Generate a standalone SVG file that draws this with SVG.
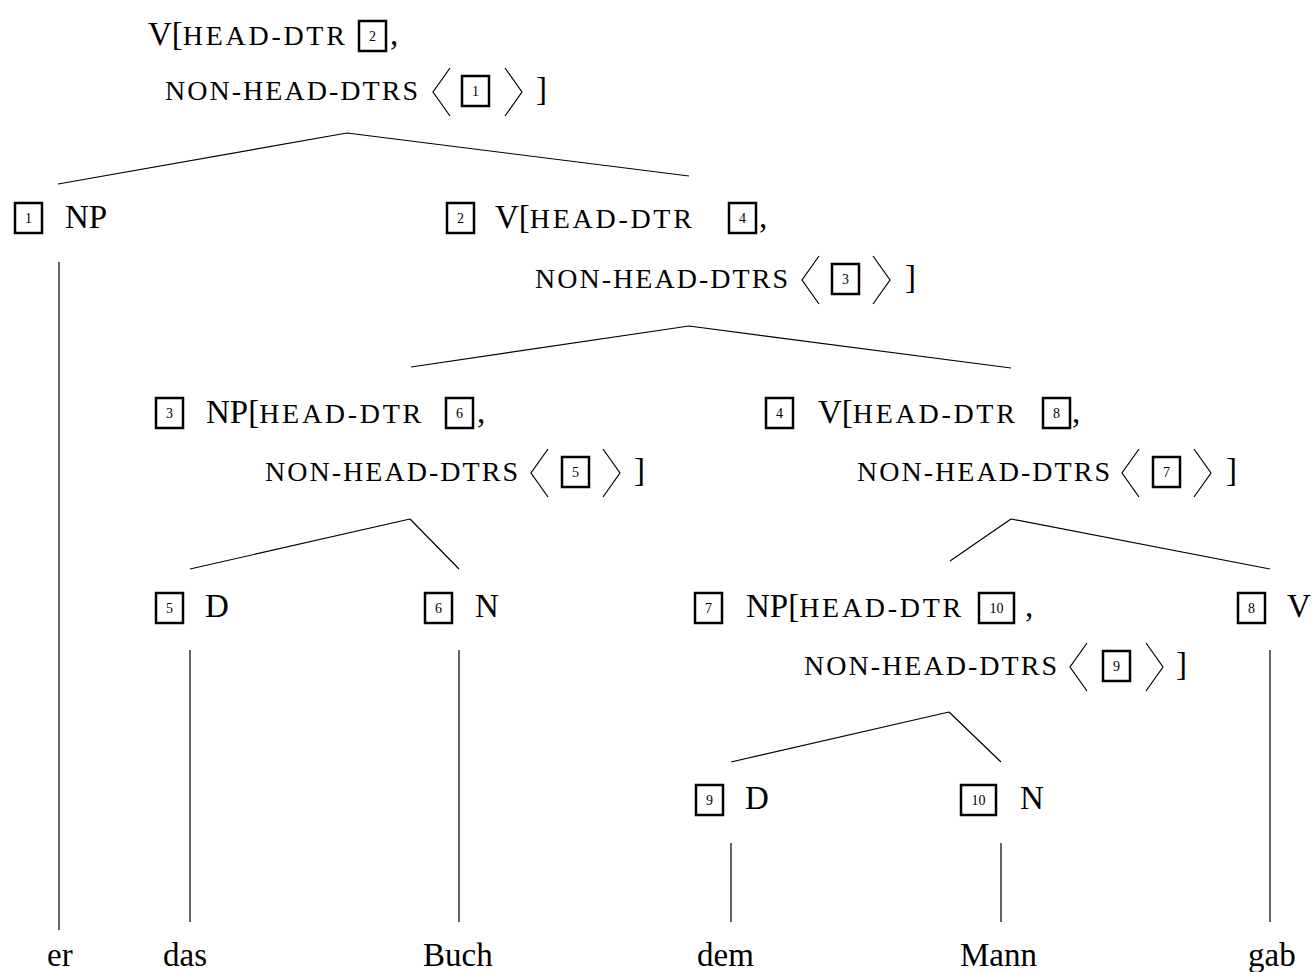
<svg xmlns="http://www.w3.org/2000/svg" width="1314" height="972" viewBox="0 0 1314 972">
  <style>
    text { font-family: "Liberation Serif", "Times New Roman", serif; fill: #000; }
    .cat { font-size: 33px; }
    .sc { font-size: 28px; }
    .num { font-size: 14px; text-anchor: middle; }
    .box { fill: none; stroke: #000; stroke-width: 2.5; }
    .edge { stroke: #000; stroke-width: 1.2; fill: none; }
  </style>
  <defs>
    <!-- tag boxes -->
    <rect id="tag" class="box" x="0" y="0" width="27" height="30"/>
    <rect id="tag2" class="box" x="0" y="0" width="35" height="30"/>
  </defs>

  <!-- connectors -->
  <g id="edges">
    <path class="edge" d="M347 133 L58 184 M347 133 L689 176"/>
    <path class="edge" d="M59 262 L59 930"/>
    <path class="edge" d="M689 326 L411 367 M689 326 L1011 368"/>
    <path class="edge" d="M410 519 L190 569 M410 519 L459 569"/>
    <path class="edge" d="M1011 519 L950 561 M1011 519 L1270 569"/>
    <path class="edge" d="M190 650 L190 922 M459 650 L459 922"/>
    <path class="edge" d="M949 712 L731 762 M949 712 L1001 762"/>
    <path class="edge" d="M731 843 L731 922 M1001 843 L1001 922"/>
    <path class="edge" d="M1270 650 L1270 922"/>
  </g>

  <!-- root -->
  <g id="root">
    <text class="cat" x="148" y="45">V[<tspan class="sc" textLength="162" lengthAdjust="spacing">HEAD-DTR</tspan></text>
    <use href="#tag" x="359" y="21"/>
    <text class="num" x="372.5" y="41">2</text>
    <text class="cat" x="390" y="45">,</text>
    <text class="sc" x="165" y="100" textLength="253" lengthAdjust="spacing">NON-HEAD-DTRS</text>
    <path class="edge" d="M450 68 L433 92 L450 116 M505 68 L522 92 L505 116"/>
    <use href="#tag" x="462" y="76"/>
    <text class="num" x="475.5" y="96">1</text>
    <text class="cat" x="536" y="100">]</text>
  </g>

  <!-- node 1 -->
  <g id="n1">
    <use href="#tag" x="15" y="203"/>
    <text class="num" x="28.5" y="223">1</text>
    <text class="cat" x="65" y="228">NP</text>
  </g>

  <!-- node 2 -->
  <g id="n2">
    <use href="#tag" x="447" y="203"/>
    <text class="num" x="460.5" y="223">2</text>
    <text class="cat" x="495" y="228">V[<tspan class="sc" textLength="162" lengthAdjust="spacing">HEAD-DTR</tspan></text>
    <use href="#tag" x="729" y="203"/>
    <text class="num" x="742.5" y="223">4</text>
    <text class="cat" x="759" y="228">,</text>
    <text class="sc" x="535" y="288" textLength="253" lengthAdjust="spacing">NON-HEAD-DTRS</text>
    <path class="edge" d="M819 256 L802 280 L819 304 M873 256 L890 280 L873 304"/>
    <use href="#tag" x="832" y="264"/>
    <text class="num" x="845.5" y="284">3</text>
    <text class="cat" x="905" y="288">]</text>
  </g>

  <!-- node 3 -->
  <g id="n3">
    <use href="#tag" x="156" y="398"/>
    <text class="num" x="169.5" y="418">3</text>
    <text class="cat" x="206" y="423">NP[<tspan class="sc" textLength="162" lengthAdjust="spacing">HEAD-DTR</tspan></text>
    <use href="#tag" x="446" y="398"/>
    <text class="num" x="459.5" y="418">6</text>
    <text class="cat" x="477" y="423">,</text>
    <text class="sc" x="265" y="481" textLength="253" lengthAdjust="spacing">NON-HEAD-DTRS</text>
    <path class="edge" d="M548 449 L531 473 L548 497 M603 449 L620 473 L603 497"/>
    <use href="#tag" x="562" y="457"/>
    <text class="num" x="575.5" y="477">5</text>
    <text class="cat" x="634" y="481">]</text>
  </g>

  <!-- node 4 -->
  <g id="n4">
    <use href="#tag" x="766" y="398"/>
    <text class="num" x="779.5" y="418">4</text>
    <text class="cat" x="818" y="423">V[<tspan class="sc" textLength="162" lengthAdjust="spacing">HEAD-DTR</tspan></text>
    <use href="#tag" x="1043" y="398"/>
    <text class="num" x="1056.5" y="418">8</text>
    <text class="cat" x="1072" y="423">,</text>
    <text class="sc" x="857" y="481" textLength="253" lengthAdjust="spacing">NON-HEAD-DTRS</text>
    <path class="edge" d="M1139 449 L1122 473 L1139 497 M1194 449 L1211 473 L1194 497"/>
    <use href="#tag" x="1153" y="457"/>
    <text class="num" x="1166.5" y="477">7</text>
    <text class="cat" x="1226" y="481">]</text>
  </g>

  <!-- node 5 -->
  <g id="n5">
    <use href="#tag" x="156" y="593"/>
    <text class="num" x="169.5" y="613">5</text>
    <text class="cat" x="205" y="617">D</text>
  </g>

  <!-- node 6 -->
  <g id="n6">
    <use href="#tag" x="425" y="593"/>
    <text class="num" x="438.5" y="613">6</text>
    <text class="cat" x="475" y="617">N</text>
  </g>

  <!-- node 7 -->
  <g id="n7">
    <use href="#tag" x="695" y="593"/>
    <text class="num" x="708.5" y="613">7</text>
    <text class="cat" x="746" y="617">NP[<tspan class="sc" textLength="162" lengthAdjust="spacing">HEAD-DTR</tspan></text>
    <use href="#tag2" x="979" y="593"/>
    <text class="num" x="996.5" y="613">10</text>
    <text class="cat" x="1025" y="617">,</text>
    <text class="sc" x="804" y="675" textLength="253" lengthAdjust="spacing">NON-HEAD-DTRS</text>
    <path class="edge" d="M1087 643 L1070 667 L1087 691 M1146 643 L1163 667 L1146 691"/>
    <use href="#tag" x="1103" y="651"/>
    <text class="num" x="1116.5" y="671">9</text>
    <text class="cat" x="1176" y="675">]</text>
  </g>

  <!-- node 8 -->
  <g id="n8">
    <use href="#tag" x="1238" y="593"/>
    <text class="num" x="1251.5" y="613">8</text>
    <text class="cat" x="1287" y="617">V</text>
  </g>

  <!-- node 9 -->
  <g id="n9">
    <use href="#tag" x="696" y="785"/>
    <text class="num" x="709.5" y="805">9</text>
    <text class="cat" x="745" y="809">D</text>
  </g>

  <!-- node 10 -->
  <g id="n10">
    <use href="#tag2" x="961" y="785"/>
    <text class="num" x="978.5" y="805">10</text>
    <text class="cat" x="1020" y="809">N</text>
  </g>

  <!-- words -->
  <g id="words">
    <text class="cat" x="47" y="966">er</text>
    <text class="cat" x="163" y="966">das</text>
    <text class="cat" x="423" y="966">Buch</text>
    <text class="cat" x="697" y="966">dem</text>
    <text class="cat" x="960" y="966">Mann</text>
    <text class="cat" x="1248" y="966">gab</text>
  </g>
</svg>
